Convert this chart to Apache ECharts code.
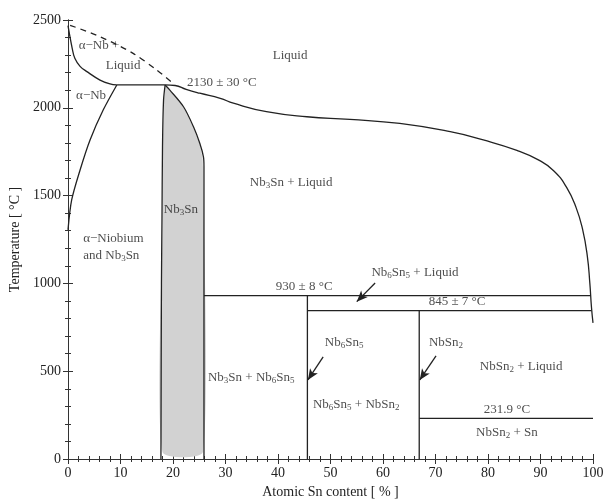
<!DOCTYPE html>
<html>
<head>
<meta charset="utf-8">
<script src="https://cdn.jsdelivr.net/npm/echarts@6/dist/echarts.min.js"></script>
<style>
html, body { margin: 0; padding: 0; background: #fff; }
#chart { width: 603px; height: 499px; }
</style>
</head>
<body>
<div id="chart"></div>
<script>
// phase boundaries, points are [Sn at.%, temperature °C]
const solidusNb = [[0, 2468], [0.8, 2339], [1.3, 2282], [2.3, 2236], [3.6, 2206], [6.1, 2158], [8, 2136], [9.3, 2130]];
const eutecticPlateau = [[9.3, 2130], [18.5, 2130]];
const liquidus = [[18.5, 2130], [20.4, 2127], [22.5, 2105], [25.1, 2083], [29, 2054], [31.5, 2026], [37.8, 1978],
  [45.5, 1949], [53.7, 1934], [63.2, 1911], [72.8, 1864], [79.1, 1817], [85.5, 1758], [89.5, 1705],
  [92.5, 1642], [95.0, 1545], [96.8, 1430], [98.0, 1310], [98.9, 1160], [99.4, 1000], [99.7, 867], [100, 775]];
const liquidusDashed = [[0.4, 2470], [6.1, 2405], [12.4, 2310], [16.9, 2215], [19.8, 2145]];
const solvusNb = [[9.3, 2130], [6.7, 1987], [4.2, 1817], [2.3, 1646], [0.7, 1475], [0, 1305]];
const nb3snLeft = [[17.7, 0], [17.8, 1000], [17.9, 1361], [18.0, 1778], [18.2, 2044], [18.5, 2130]];
const nb3snRight = [[18.5, 2130], [19.4, 2101], [22, 2006], [23.9, 1892], [25.1, 1798], [25.8, 1721], [25.9, 1665], [25.9, 0]];
const nb3snFill = [[18.0, 40], [18.0, 1361], [18.1, 1778], [18.3, 2044], [18.5, 2125], [19.4, 2095], [22, 2000],
  [23.8, 1890], [25.0, 1798], [25.6, 1721], [25.7, 1665], [25.7, 40]];
const peritectic930 = [[25.9, 930], [99.5, 930]];
const peritectic845 = [[45.6, 845], [99.7, 845]];
const nb6sn5Line = [[45.6, 930], [45.6, 0]];
const nbsn2Line = [[66.9, 845], [66.9, 0]];
const eutectic232 = [[66.9, 231.9], [100, 231.9]];

// arrows: [from, to]
const arrows = [
  [[58.5, 1002], [55.0, 896]],
  [[48.6, 582], [45.7, 450]],
  [[70.1, 587], [67.0, 450]]
];

// region and temperature labels: [x, y, text, align]
const labels = [
  [42.3, 2295, 'Liquid', 'center'],
  [5.9, 2352, 'α−Nb +', 'center'],
  [10.5, 2238, 'Liquid', 'center'],
  [4.4, 2067, 'α−Nb', 'center'],
  [29.3, 2141, '2130 ± 30 °C', 'center'],
  [21.5, 1418, 'Nb{s|3}Sn', 'center'],
  [42.5, 1572, 'Nb{s|3}Sn + Liquid', 'center'],
  [2.9, 1253, 'α−Niobium', 'left'],
  [2.9, 1156, 'and Nb{s|3}Sn', 'left'],
  [66.1, 1059, 'Nb{s|6}Sn{s|5} + Liquid', 'center'],
  [45.0, 980, '930 ± 8 °C', 'center'],
  [74.1, 894, '845 ± 7 °C', 'center'],
  [52.6, 661, 'Nb{s|6}Sn{s|5}', 'center'],
  [72.0, 661, 'NbSn{s|2}', 'center'],
  [86.3, 524, 'NbSn{s|2} + Liquid', 'center'],
  [34.9, 461, 'Nb{s|3}Sn + Nb{s|6}Sn{s|5}', 'center'],
  [54.9, 308, 'Nb{s|6}Sn{s|5} + NbSn{s|2}', 'center'],
  [83.6, 279, '231.9 °C', 'center'],
  [83.6, 148, 'NbSn{s|2} + Sn', 'center']
];

const FONT = 'Liberation Serif';
const INK = '#222';

function boundary(data, dashed, smooth) {
  return {
    type: 'line',
    data: data,
    showSymbol: false,
    symbol: 'none',
    smooth: smooth || false,
    silent: true,
    z: 3,
    lineStyle: { color: INK, width: 1.3, type: dashed ? [6, 5] : 'solid' }
  };
}

const chart = echarts.init(document.getElementById('chart'), null, { renderer: 'canvas' });

const tickAxis = {
  axisLine: { show: true, lineStyle: { color: '#333', width: 1 } },
  axisTick: { show: true, inside: true, length: 5, lineStyle: { color: '#333' } },
  minorTick: { show: true, splitNumber: 5, length: 3, lineStyle: { color: '#333' } },
  splitLine: { show: false },
  minorSplitLine: { show: false }
};

const plainLabel = function (v) { return String(v); };

const option = {
  backgroundColor: '#fff',
  animation: false,
  grid: { left: 68, right: 10, top: 20, bottom: 40, outerBoundsMode: 'none', containLabel: false },
  xAxis: [
    Object.assign({
      type: 'value', min: 0, max: 100, interval: 10, position: 'bottom',
      name: 'Atomic Sn content [ % ]', nameLocation: 'middle', nameGap: 25,
      nameTextStyle: { fontFamily: FONT, fontSize: 14, color: INK },
      axisLabel: { fontFamily: FONT, fontSize: 14, color: INK, margin: 7, formatter: plainLabel }
    }, tickAxis),
    Object.assign({
      type: 'value', min: 0, max: 100, interval: 10, position: 'top',
      axisLabel: { show: false }
    }, tickAxis)
  ],
  yAxis: [
    Object.assign({
      type: 'value', min: 0, max: 2500, interval: 500, position: 'left',
      name: 'Temperature [ °C ]', nameLocation: 'middle', nameGap: 42,
      nameTextStyle: { fontFamily: FONT, fontSize: 14, color: INK },
      axisLabel: { fontFamily: FONT, fontSize: 14, color: INK, margin: 7, formatter: plainLabel }
    }, tickAxis),
    Object.assign({
      type: 'value', min: 0, max: 2500, interval: 500, position: 'right',
      axisLabel: { show: false }
    }, tickAxis)
  ],
  series: [
    {
      type: 'custom',
      silent: true,
      z: 1,
      data: [[0, 0]],
      renderItem: function (params, api) {
        return {
          type: 'polygon',
          shape: { points: nb3snFill.map(function (p) { return api.coord(p); }), smooth: 0.2 },
          style: { fill: '#d2d2d2' }
        };
      }
    },
    boundary(solidusNb, false, 0.4),
    boundary(eutecticPlateau),
    boundary(liquidus, false, 0.5),
    boundary(liquidusDashed, true, 0.3),
    boundary(solvusNb, false, 0.3),
    boundary(nb3snLeft, false, 0.3),
    boundary(nb3snRight, false, 0.3),
    boundary(peritectic930),
    boundary(peritectic845),
    boundary(nb6sn5Line),
    boundary(nbsn2Line),
    boundary(eutectic232),
    {
      type: 'line',
      data: [],
      silent: true,
      markLine: {
        silent: true,
        symbol: ['none', 'arrow'],
        symbolSize: [7, 11],
        label: { show: false },
        lineStyle: { color: INK, width: 1.3, type: 'solid' },
        data: arrows.map(function (a) {
          return [{ coord: a[0] }, { coord: a[1] }];
        })
      }
    },
    {
      type: 'scatter',
      symbolSize: 0,
      silent: true,
      z: 5,
      data: labels.map(function (l) {
        return {
          value: [l[0], l[1]],
          name: l[2],
          label: { align: l[3] }
        };
      }),
      label: {
        show: true,
        position: 'inside',
        formatter: function (p) { return p.name; },
        fontFamily: FONT,
        fontSize: 13,
        color: INK,
        lineHeight: 15,
        rich: {
          s: { fontFamily: FONT, fontSize: 9, color: INK, lineHeight: 10, padding: [6, 0, 0, 0] }
        }
      }
    }
  ]
};

chart.setOption(option);
</script>
</body>
</html>
